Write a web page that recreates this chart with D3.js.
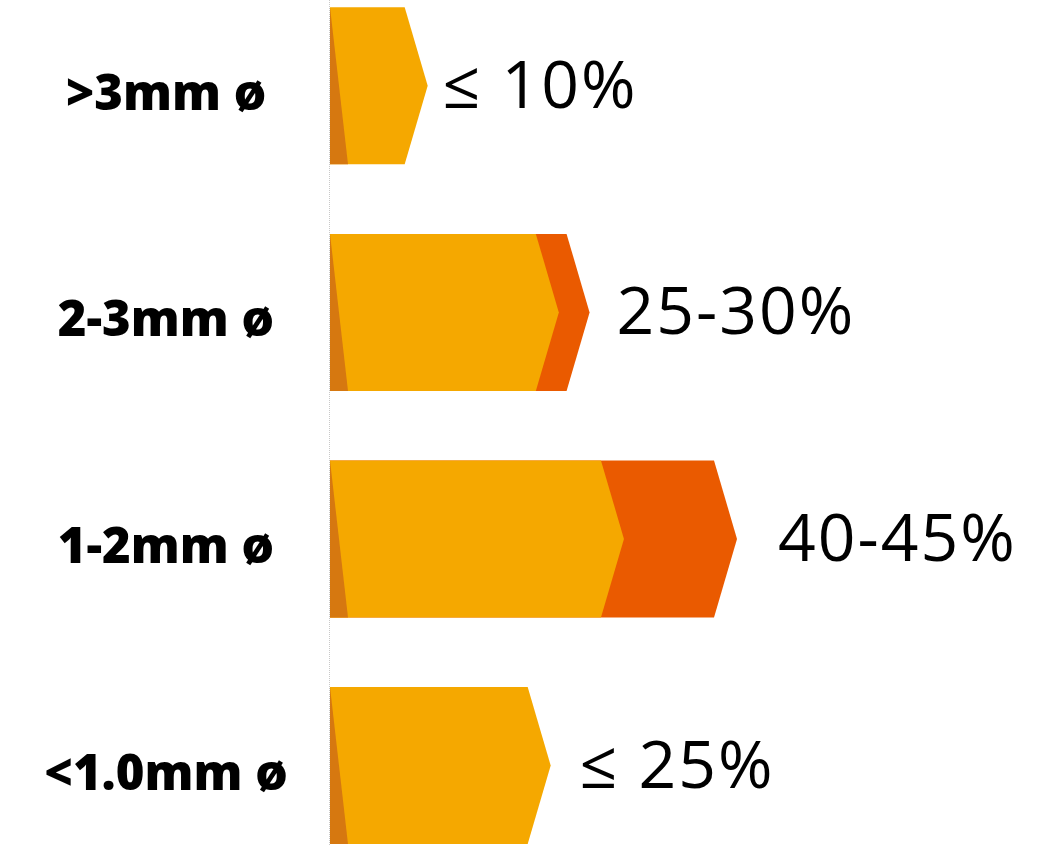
<!DOCTYPE html>
<html>
<head>
<meta charset="utf-8">
<script src="https://cdn.jsdelivr.net/npm/d3@7"></script>
<style>
  body { margin: 0; background: #fff; }
  svg { display: block; }
</style>
</head>
<body>
<svg id="canvas" width="1040" height="845"></svg>
<script>
// categories, top to bottom
let sizes = ['>3mm ø', '2-3mm ø', '1-2mm ø', '<1.0mm ø']
// share labels shown at the end of each bar
let shares = ['≤ 10%', '25-30%', '40-45%', '≤ 25%']
// arrow tip of the main (yellow) bar in % units
let lowValues = [10.8, 25.3, 32.5, 24.4]
// arrow tip of the upper range (red) bar, null when there is none
let highValues = [null, 28.7, 45, null]

let width = 1040,
    height = 845

let canvas = d3.select('#canvas')

let x = d3.scaleLinear().domain([0, 45]).range([330, 737])
let y = d3.scaleBand().domain(sizes).range([8, 844]).paddingInner(0.31).paddingOuter(0)

let barH = 157
let tipDepth = 23
let shadeW = 18
// extra gap between each bar end and its label
let labelGap = [15, 27, 41, 29]

let rows = sizes.map((s, i) => ({
    size: s,
    share: shares[i],
    low: lowValues[i],
    high: highValues[i],
    i: i
}))

// dotted baseline
canvas.append('line')
    .attr('x1', x(0) - 0.5).attr('x2', x(0) - 0.5)
    .attr('y1', 0).attr('y2', height)
    .attr('stroke', '#c8c8c8')
    .attr('stroke-width', 1)
    .attr('stroke-dasharray', '1,1')

let arrow = (tipX, top) => {
    let x0 = x(0), h = barH
    return [
        [x0, top], [tipX - tipDepth, top], [tipX, top + h / 2],
        [tipX - tipDepth, top + h], [x0, top + h]
    ].map(p => p.join(',')).join(' ')
}

// band tops, last bar sits on the bottom edge
let topOf = d => y(d.size) + y.bandwidth() - barH

let bar = canvas.append('g').selectAll('g')
    .data(rows)
    .enter()
    .append('g')

// upper range behind
bar.filter(d => d.high !== null)
    .append('polygon')
    .attr('points', d => arrow(x(d.high), topOf(d)))
    .attr('fill', '#ea5a00')

// main bar
bar.append('polygon')
    .attr('points', d => arrow(x(d.low), topOf(d)))
    .attr('fill', '#f5a800')

// darker wedge at the left
bar.append('polygon')
    .attr('points', d => {
        let t = topOf(d)
        return [[x(0), t], [x(0) + shadeW, t + barH], [x(0), t + barH]]
            .map(p => p.join(',')).join(' ')
    })
    .attr('fill', '#d67810')

// category labels
bar.append('text')
    .attr('x', 166)
    .attr('y', d => topOf(d) + barH / 2 + 24)
    .attr('text-anchor', 'middle')
    .attr('font-family', "'Open Sans', sans-serif")
    .attr('font-weight', 800)
    .attr('font-size', 49)
    .attr('fill', '#000')
    .text(d => d.size)

// share labels
bar.append('text')
    .attr('x', d => x(d.high !== null ? d.high : d.low) + labelGap[d.i])
    .attr('y', d => topOf(d) + barH / 2 + 22)
    .attr('font-family', "'Open Sans', sans-serif")
    .attr('font-weight', 400)
    .attr('font-size', 66)
    .attr('letter-spacing', 2)
    .attr('fill', '#000')
    .text(d => d.share)
</script>
</body>
</html>
